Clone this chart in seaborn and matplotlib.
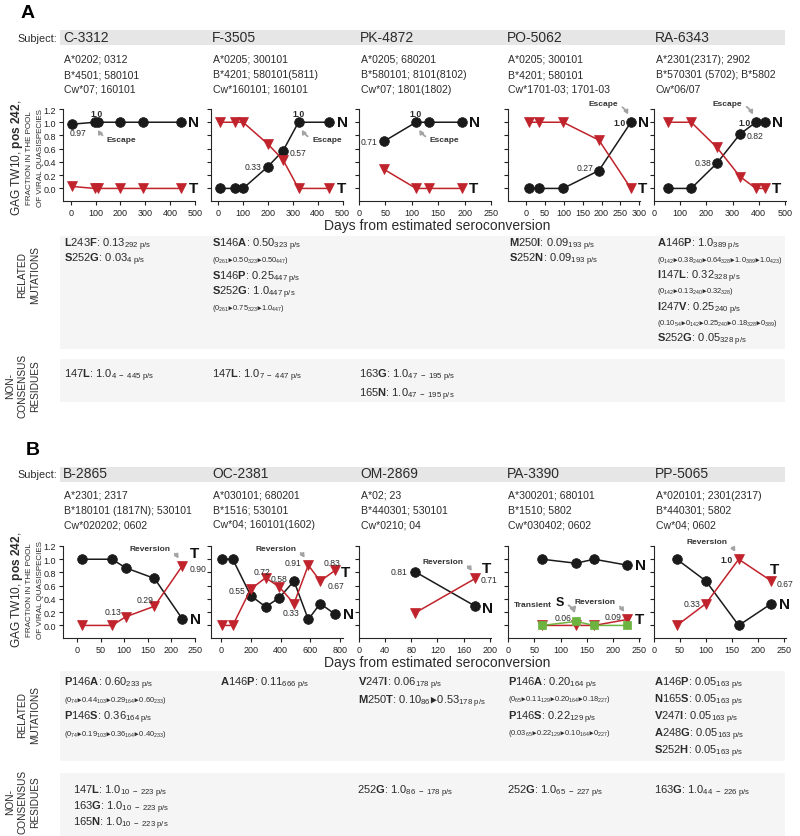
import re
import matplotlib
matplotlib.use("Agg")
import matplotlib.pyplot as plt
from matplotlib.patches import Rectangle
import seaborn as sns

# ---------------- data ----------------
subjects_a = ["C-3312", "F-3505", "PK-4872", "PO-5062", "RA-6343"]
hla_a = [
    ["A*0202; 0312", "B*4501; 580101", "Cw*07; 160101"],
    ["A*0205; 300101", "B*4201; 580101(5811)", "Cw*160101; 160101"],
    ["A*0205; 680201", "B*580101; 8101(8102)", "Cw*07; 1801(1802)"],
    ["A*0205; 300101", "B*4201; 580101", "Cw*1701-03; 1701-03"],
    ["A*2301(2317); 2902", "B*570301 (5702); B*5802", "Cw*06/07"],
]
subjects_b = ["B-2865", "OC-2381", "OM-2869", "PA-3390", "PP-5065"]
hla_b = [
    ["A*2301; 2317", "B*180101 (1817N); 530101", "Cw*020202; 0602"],
    ["A*030101; 680201", "B*1516; 530101", "Cw*04; 160101(1602)"],
    ["A*02; 23", "B*440301; 530101", "Cw*0210; 04"],
    ["A*300201; 680101", "B*1510; 5802", "Cw*030402; 0602"],
    ["A*020101; 2301(2317)", "B*440301; 5802", "Cw*04; 0602"],
]

# fraction of viral quasispecies: N = non-TW10 variant, T = TW10 (242T), S = 242S
c3312_days = [4, 97, 110, 200, 292, 445]
c3312_n = [0.97, 1.0, 1.0, 1.0, 1.0, 1.0]
c3312_t = [0.03, 0, 0, 0, 0, 0]
f3505_days = [7, 69, 100, 200, 261, 323, 447]
f3505_n = [0, 0, 0, 0.33, 0.57, 1.0, 1.0]
f3505_t = [1, 1, 1, 0.67, 0.43, 0, 0]
pk4872_days = [47, 108, 133, 195]
pk4872_n = [0.71, 1.0, 1.0, 1.0]
pk4872_t = [0.29, 0, 0, 0]
po5062_days = [8, 35, 98, 193, 278]
po5062_n = [0, 0, 0, 0.27, 1.0]
po5062_t = [1, 1, 1, 0.73, 0]
ra6343_days = [54, 142, 240, 328, 389, 423]
ra6343_n = [0, 0, 0.38, 0.82, 1.0, 1.0]
ra6343_t = [1, 1, 0.62, 0.18, 0, 0]

b2865_days = [10, 74, 103, 164, 223]
b2865_n = [1.0, 1.0, 0.87, 0.71, 0.10]
b2865_t = [0, 0, 0.13, 0.29, 0.90]
oc2381_days = [5, 79, 200, 300, 392, 490, 586, 666, 765]
oc2381_n = [1.0, 1.0, 0.45, 0.28, 0.42, 0.67, 0.09, 0.33, 0.17]
oc2381_t = [0, 0, 0.55, 0.72, 0.58, 0.33, 0.91, 0.67, 0.83]
om2869_days = [86, 178]
om2869_n = [0.81, 0.29]
om2869_t = [0.19, 0.71]
pa3390_days = [65, 129, 164, 227]
pa3390_n = [1.0, 0.94, 1.0, 0.91]
pa3390_t = [0, 0, 0, 0.09]
pa3390_s = [0, 0.06, 0, 0]
pp5065_days = [44, 100, 163, 226]
pp5065_n = [1.0, 0.67, 0, 0.33]
pp5065_t = [0, 0.33, 1.0, 0.67]

# related mutations / non-consensus residues, as printed (_{..} = subscript)
rel_c3312 = ["L243F: 0.13_{292 p/s}", "S252G: 0.03_{4 p/s}"]
rel_f3505 = ["S146A: 0.50_{323 p/s}", "(0_{261}▸0.50_{323}▸0.50_{447})",
             "S146P: 0.25_{447 p/s}", "S252G: 1.0_{447 p/s}",
             "(0_{261}▸0.75_{323}▸1.0_{447})"]
rel_pk4872 = []
rel_po5062 = ["M250I: 0.09_{193 p/s}", "S252N: 0.09_{193 p/s}"]
rel_ra6343 = ["A146P: 1.0_{389 p/s}",
              "(0_{142}▸0.38_{240}▸0.64_{328}▸1.0_{389}▸1.0_{423})",
              "I147L: 0.32_{328 p/s}", "(0_{142}▸0.13_{240}▸0.32_{328})",
              "I247V: 0.25_{240 p/s}",
              "(0.10_{54}▸0_{142}▸0.25_{240}▸0.18_{328}▸0_{389})",
              "S252G: 0.05_{328 p/s}"]
nc_c3312 = ["147L: 1.0_{4 - 445 p/s}"]
nc_f3505 = ["147L: 1.0_{7 - 447 p/s}"]
nc_pk4872 = ["163G: 1.0_{47 - 195 p/s}", "165N: 1.0_{47 - 195 p/s}"]
nc_po5062 = []
nc_ra6343 = []

rel_b2865 = ["P146A: 0.60_{233 p/s}", "(0_{74}▸0.44_{103}▸0.29_{164}▸0.60_{233})",
             "P146S: 0.36_{164 p/s}", "(0_{74}▸0.19_{103}▸0.36_{164}▸0.40_{233})"]
rel_oc2381 = ["A146P: 0.11_{666 p/s}"]
rel_om2869 = ["V247I: 0.06_{178 p/s}", "M250T: 0.10_{86}▸0.53_{178 p/s}"]
rel_pa3390 = ["P146A: 0.20_{164 p/s}", "(0_{65}▸0.11_{129}▸0.20_{164}▸0.18_{227})",
              "P146S: 0.22_{129 p/s}", "(0.03_{65}▸0.22_{129}▸0.10_{164}▸0_{227})"]
rel_pp5065 = ["A146P: 0.05_{163 p/s}", "N165S: 0.05_{163 p/s}", "V247I: 0.05_{163 p/s}",
              "A248G: 0.05_{163 p/s}", "S252H: 0.05_{163 p/s}"]
nc_b2865 = ["147L: 1.0_{10 - 223 p/s}", "163G: 1.0_{10 - 223 p/s}", "165N: 1.0_{10 - 223 p/s}"]
nc_oc2381 = []
nc_om2869 = ["252G: 1.0_{86 - 178 p/s}"]
nc_pa3390 = ["252G: 1.0_{65 - 227 p/s}"]
nc_pp5065 = ["163G: 1.0_{44 - 226 p/s}"]

# ---------------- style ----------------
sns.set_style("ticks")
plt.rcParams["font.family"] = ["Liberation Sans", "DejaVu Sans"]
plt.rcParams["mathtext.fontset"] = "custom"
plt.rcParams["mathtext.rm"] = "Liberation Sans"
plt.rcParams["mathtext.bf"] = "Liberation Sans:bold"
plt.rcParams["mathtext.it"] = "Liberation Sans:italic"
plt.rcParams["mathtext.sf"] = "Liberation Sans"
plt.rcParams["mathtext.fallback"] = "stixsans"

C_N, C_T, C_S = "#1a1a1a", "#c0232b", "#6db33f"
TXT = "#2b2b2b"
W, H = 800, 837
fig = plt.figure(figsize=(8, 8.37), dpi=100)


def fx(x):
    return x / W


def fy(y):
    return 1 - y / H


def ftext(x, y, s, **kw):
    kw.setdefault("color", TXT)
    fig.text(fx(x), fy(y), s, **kw)


def band(x0, y0, x1, y1, color):
    fig.add_artist(Rectangle((fx(x0), fy(y1)), fx(x1) - fx(x0), fy(y0) - fy(y1),
                             transform=fig.transFigure, color=color, lw=0, zorder=-5))


def rich(s):
    if ": " in s:
        name, rest = s.split(": ", 1)
        s = re.sub(r"([A-Z])", r"$\\mathbf{\1}$", name) + ": " + rest
    s = re.sub(r"_\{([^}]*)\}",
               lambda m: r"$_{\mathrm{" + m.group(1).replace(" ", r"\ ") + "}}$", s)
    return s.replace("▸", "$\u25b8$")


def vlabel(v):
    return "1.0" if v == 1 else f"{v:.2f}"


# ---------------- layout ----------------
lefts = [63, 211, 359, 508, 654]
AX_W, AX_H = 132, 92

plots_a = [
    ("C-3312", c3312_days, {"N": c3312_n, "T": c3312_t}, (-31, 501), range(0, 501, 100)),
    ("F-3505", f3505_days, {"N": f3505_n, "T": f3505_t}, (-29, 502), range(0, 501, 100)),
    ("PK-4872", pk4872_days, {"N": pk4872_n, "T": pk4872_t}, (0, 250), range(0, 251, 50)),
    ("PO-5062", po5062_days, {"N": po5062_n, "T": po5062_t}, (-48, 302), range(0, 301, 50)),
    ("RA-6343", ra6343_days, {"N": ra6343_n, "T": ra6343_t}, (0, 504), range(0, 501, 100)),
]
plots_b = [
    ("B-2865", b2865_days, {"N": b2865_n, "T": b2865_t}, (-30, 250), range(0, 251, 50)),
    ("OC-2381", oc2381_days, {"N": oc2381_n, "T": oc2381_t}, (-67, 819), range(0, 801, 200)),
    ("OM-2869", om2869_days, {"N": om2869_n, "T": om2869_t}, (0, 202), range(0, 201, 40)),
    ("PA-3390", pa3390_days, {"N": pa3390_n, "T": pa3390_t, "S": pa3390_s}, (0, 251), range(0, 251, 50)),
    ("PP-5065", pp5065_days, {"N": pp5065_n, "T": pp5065_t}, (0, 254), range(0, 251, 50)),
]

# (series, index, dx pt, dy pt, ha)
point_labels = {
    "C-3312": [("N", 0, 4.5, -6, "center"), ("N", 1, 1.2, 6, "center")],
    "F-3505": [("N", 3, -5, 0, "right"), ("N", 4, 4.5, -1, "left"), ("N", 5, 0, 6, "center")],
    "PK-4872": [("N", 0, -4.5, 0, "right"), ("N", 1, 0, 6, "center")],
    "PO-5062": [("N", 3, -4, 2, "right"), ("N", 4, -4, 0, "right")],
    "RA-6343": [("N", 2, -4, 0.5, "right"), ("N", 3, 5, -1, "left"), ("N", 4, -4, 0, "right")],
    "B-2865": [("T", 2, -3, 4, "right"), ("T", 3, -1, 5, "right"), ("T", 4, 5, -1.7, "left")],
    "OC-2381": [("T", 2, -4, -1.2, "right"), ("T", 3, -2.5, 4.8, "center"),
                ("T", 4, -0.5, 6.5, "center"), ("T", 5, -2.4, -6.7, "center"),
                ("T", 6, -4.8, 1.9, "right"), ("T", 7, 5.6, -3.2, "left"),
                ("T", 8, -1.8, 5.5, "center")],
    "OM-2869": [("N", 0, -5.3, 0, "right"), ("T", 1, 3.5, -1, "left")],
    "PA-3390": [("S", 1, -3, 2.7, "right"), ("T", 3, -4, 2.4, "right")],
    "PP-5065": [("T", 1, -4, 0, "right"), ("T", 2, -4, 0, "right"), ("T", 3, 4, -1.4, "left")],
}
end_labels = {
    "B-2865": [("T", 5.5, 9, "left"), ("N", 5.5, 0, "left")],
    "OC-2381": [("T", 4.5, -1, "left"), ("N", 5.5, 0, "left")],
    "OM-2869": [("T", 5, 7.4, "left"), ("N", 5, -1.5, "left")],
    "PP-5065": [("T", 2.5, 8.5, "center"), ("N", 5.5, 0, "left")],
}
# (text, series, index, dx pt, dy pt)
callouts = {
    "C-3312": [("Escape", "N", 1, 19.4, -12.2)],
    "F-3505": [("Escape", "N", 5, 20.5, -12.2)],
    "PK-4872": [("Escape", "N", 1, 20.6, -12.2)],
    "PO-5062": [("Escape", "N", 4, -20, 13.7)],
    "RA-6343": [("Escape", "N", 4, -20.5, 13.7)],
    "B-2865": [("Reversion", "T", 4, -23.2, 12.2)],
    "OC-2381": [("Reversion", "T", 6, -23.3, 12.2)],
    "OM-2869": [("Reversion", "T", 1, -23.3, 12.2)],
    "PA-3390": [("Reversion", "T", 3, -23.3, 13)],
    "PP-5065": [("Reversion", "T", 2, -22.5, 12.7)],
}

markers = {"N": ("o", 7, C_N), "T": ("v", 7.5, C_T), "S": ("s", 6.2, C_S)}
ARROW = dict(arrowstyle="-|>,head_length=0.35,head_width=0.2", color="#a3a3a3", lw=1.3,
             shrinkA=1, shrinkB=6, connectionstyle="arc3,rad=-0.45")


def draw_plot(left, top, spec, first):
    name, days, series, xlim, xticks = spec
    ax = fig.add_axes([fx(left), fy(top + AX_H), AX_W / W, AX_H / H])
    for key in ["N", "T", "S"]:
        if key not in series:
            continue
        mk, ms, col = markers[key]
        sns.lineplot(x=days, y=series[key], ax=ax, color=col, marker=mk, markersize=ms,
                     markeredgecolor=col, markeredgewidth=0.5, linewidth=1.1,
                     estimator=None, errorbar=None, zorder=3)
    ax.set_xlim(*xlim)
    ax.set_ylim(-0.19, 1.2)
    ax.set_xticks(list(xticks))
    ax.set_yticks([0, 0.2, 0.4, 0.6, 0.8, 1.0, 1.2])
    ax.yaxis.set_major_formatter("{x:.1f}")
    ax.set_xlabel("")
    ax.set_ylabel("")
    sns.despine(ax=ax)
    for sp in ax.spines.values():
        sp.set_linewidth(0.8)
    ax.tick_params(length=3, width=0.8, labelsize=6.5, pad=2, colors="#222222")
    if not first:
        ax.tick_params(labelleft=False)

    for key, i, dx, dy, ha in point_labels.get(name, []):
        v = series[key][i]
        ax.annotate(vlabel(v), (days[i], v), xytext=(dx, dy), textcoords="offset points",
                    ha=ha, va="center", fontsize=6.2, color=TXT,
                    fontweight="bold" if v == 1 else "normal", zorder=5)
    ends = end_labels.get(name, [(k, 5.3, 0, "left") for k in ["N", "T"]])
    for key, dx, dy, ha in ends:
        ax.annotate(key, (days[-1], series[key][-1]), xytext=(dx, dy), textcoords="offset points",
                    ha=ha, va="center", fontsize=11, fontweight="bold", color="#111111")
    for text, key, i, dx, dy in callouts.get(name, []):
        ax.annotate(text, (days[i], series[key][i]), xytext=(dx, dy), textcoords="offset points",
                    ha="center", va="center", fontsize=6, fontweight="bold", color="#333333",
                    annotation_clip=False, arrowprops=ARROW)
    if name == "PA-3390":
        tgt = (days[1], series["S"][1])
        ax.annotate("S", tgt, xytext=(-11.5, 13.7), textcoords="offset points", ha="center",
                    va="center", fontsize=9, fontweight="bold", color="#111111",
                    arrowprops=ARROW)
        ax.annotate("Transient", tgt, xytext=(-17.5, 12.2), textcoords="offset points",
                    ha="right", va="center", fontsize=6, fontweight="bold", color="#333333")
    return ax


def draw_side_labels(y_plot, y_rel, y_nc):
    ftext(17, y_plot, "GAG TW10, $\\mathbf{pos\\ 242}$,", rotation=90, ha="center",
          va="center", fontsize=8.6)
    ftext(29.5, y_plot, "FRACTION IN THE POOL", rotation=90, ha="center", va="center", fontsize=5.8)
    ftext(40, y_plot, "OF VIRAL QUASISPECIES", rotation=90, ha="center", va="center", fontsize=5.8)
    ftext(22.5, y_rel, "RELATED", rotation=90, ha="center", va="center", fontsize=7.3)
    ftext(35, y_rel, "MUTATIONS", rotation=90, ha="center", va="center", fontsize=7.3)
    ftext(10.3, y_nc, "NON-", rotation=90, ha="center", va="center", fontsize=7.3)
    ftext(22.5, y_nc, "CONSENSUS", rotation=90, ha="center", va="center", fontsize=7.3)
    ftext(34.7, y_nc, "RESIDUES", rotation=90, ha="center", va="center", fontsize=7.3)


def draw_entries(cols, xs, rows):
    for lines, x, ys in zip(cols, xs, rows):
        for s, y in zip(lines, ys):
            if s.startswith("("):
                ftext(x, y + 2.6, rich(s), ha="left", va="baseline", fontsize=5.4)
            else:
                ftext(x, y + 3.8, rich(s), ha="left", va="baseline", fontsize=8)


# ---------- panel A ----------
ftext(27.5, 14, "A", fontsize=14, fontweight="bold", ha="center", va="center", color="black")
band(60, 31, 785, 46, "#e6e6e6")
ftext(57, 39, "Subject:", ha="right", va="center", fontsize=7.8)
for x, subj, hla in zip([63, 212, 360, 507, 655], subjects_a, hla_a):
    ftext(x, 38.5, subj, ha="left", va="center", fontsize=10)
    for y, line in zip([60, 75, 90], hla):
        ftext(x + 1, y, line, ha="left", va="center", fontsize=7.6)
for left, spec, i in zip(lefts, plots_a, range(5)):
    draw_plot(left, 110, spec, i == 0)
ftext(437, 226, "Days from estimated seroconversion", ha="center", va="center", fontsize=10)
band(60, 237, 785, 350, "#f5f5f5")
band(60, 360, 785, 403, "#f5f5f5")
draw_side_labels(158, 275, 386)
draw_entries([rel_c3312, rel_f3505, rel_pk4872, rel_po5062, rel_ra6343],
             [64, 212, 361, 509, 657],
             [[243, 258], [243, 259, 276, 291, 307], [], [243, 258],
              [243, 259, 275, 290, 307, 322, 338]])
draw_entries([nc_c3312, nc_f3505, nc_pk4872, nc_po5062, nc_ra6343],
             [64, 212, 359, 509, 657],
             [[374], [374], [374, 393], [], []])

# ---------- panel B ----------
ftext(33, 451, "B", fontsize=14, fontweight="bold", ha="center", va="center", color="black")
band(60, 468, 785, 483, "#e6e6e6")
ftext(57, 475, "Subject:", ha="right", va="center", fontsize=7.8)
for x, subj, hla in zip([63, 212, 360, 507, 655], subjects_b, hla_b):
    ftext(x, 474.5, subj, ha="left", va="center", fontsize=10)
    for y, line in zip([496, 510.5, 525], hla):
        ftext(x + 1, y, line, ha="left", va="center", fontsize=7.6)
for left, spec, i in zip(lefts, plots_b, range(5)):
    draw_plot(left, 547, spec, i == 0)
ftext(437, 663, "Days from estimated seroconversion", ha="center", va="center", fontsize=10)
band(60, 672, 785, 762, "#f5f5f5")
band(60, 774, 785, 837, "#f5f5f5")
draw_side_labels(590, 715, 802)
draw_entries([rel_b2865, rel_oc2381, rel_om2869, rel_pa3390, rel_pp5065],
             [64, 220, 358, 508, 654],
             [[682, 699, 716, 733], [682], [682, 700], [682, 698, 716, 732],
              [682, 699, 716, 733, 750]])
draw_entries([nc_b2865, nc_oc2381, nc_om2869, nc_pa3390, nc_pp5065],
             [73, 220, 357, 507, 654],
             [[790, 806, 822], [], [790], [790], [790]])

fig.savefig("out.png", dpi=100, facecolor="white")
